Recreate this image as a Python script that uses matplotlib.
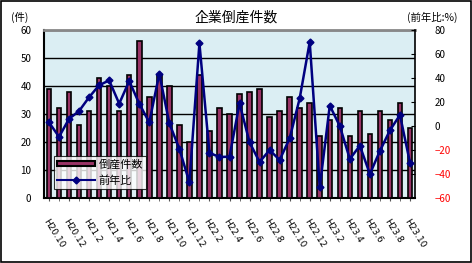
import numpy as np
import matplotlib
matplotlib.use("Agg")
import matplotlib.pyplot as plt
from matplotlib.lines import Line2D
from matplotlib.patches import Rectangle

plt.rcParams['font.family'] = ['Noto Sans CJK JP', 'DejaVu Sans']

# monthly data, H20.10 .. H23.10
counts = [39, 32, 38, 26, 31, 43, 40, 31, 44, 56, 36, 44, 40,
          26, 20, 44, 24, 32, 30, 37, 38, 39, 29, 31, 36,
          32, 34, 22, 28, 32, 22, 31, 23, 31, 28, 34, 25]
yoy = [3, -9, 6, 12.5, 24, 34, 38, 18.6, 37.5, 18.6, 3, 43.6, 2.2,
       -19, -47, 69, -22.5, -25.8, -25.6, 18.9, -13.6, -30, -20, -28.3, -10.3,
       23, 70, -51, 17, 0, -27.5, -16.4, -40, -20.8, -3.6, 9.2, -30.6]
tick_labels = ["H20.10", "H20.12", "H21.2", "H21.4", "H21.6", "H21.8", "H21.10",
               "H21.12", "H22.2", "H22.4", "H22.6", "H22.8", "H22.10", "H22.12",
               "H23.2", "H23.4", "H23.6", "H23.8", "H23.10"]

bar_color = '#993366'
line_color = '#000080'
bg_color = '#DBEEF3'

fig = plt.figure(figsize=(4.72, 2.63), dpi=100)
ax = fig.add_axes([44/472, 1-198/263, 371/472, 168/263])
ax.set_facecolor(bg_color)

x = np.arange(len(counts))
ax.bar(x, counts, width=0.45, color=bar_color, edgecolor='black', linewidth=1.2, zorder=3)
ax.set_xlim(-0.5, len(counts) - 0.5)
ax.set_ylim(0, 60)
ax.set_yticks(range(0, 61, 10))
ax.yaxis.grid(True, color='black', linewidth=1.0, zorder=1)
ax.set_axisbelow(True)
ax.tick_params(axis='y', length=0, labelsize=7, pad=9)
ax.set_xticks(x[::2])
ax.set_xticklabels(tick_labels, rotation=-58, ha='left', va='top',
                   rotation_mode='anchor', fontsize=6.5, family='DejaVu Sans')
ax.set_xticks(x, minor=True)
ax.tick_params(axis='x', which='both', length=2, color='#555555', pad=12)

for side in ['left', 'bottom']:
    ax.spines[side].set_color('black')
    ax.spines[side].set_linewidth(1.5)
ax.spines['top'].set_color('#888888')
ax.spines['top'].set_linewidth(2)
ax.spines['right'].set_visible(False)

ax2 = ax.twinx()
ax2.plot(x, yoy, color=line_color, linewidth=1.8, marker='D', markersize=3.5,
         zorder=5)
ax2.set_ylim(-60, 80)
ax2.set_yticks(range(-60, 81, 20))
ax2.tick_params(axis='y', direction='in', length=3, labelsize=7, pad=14)
for lab, v in zip(ax2.get_yticklabels(), range(-60, 81, 20)):
    lab.set_color('red' if v < 0 else 'black')
for side in ['left', 'bottom', 'top']:
    ax2.spines[side].set_visible(False)
ax2.spines['right'].set_color('black')
ax2.spines['right'].set_linewidth(1.2)

# legend
handles = [Rectangle((0, 0), 1, 1, facecolor=bar_color, edgecolor='black', linewidth=1.5),
           Line2D([], [], color=line_color, linewidth=1.5, marker='D', markersize=3.5)]
leg = ax.legend(handles, ['倒産件数', '前年比'], loc='lower left',
                bbox_to_anchor=(10/371, 9/168), borderaxespad=0, fontsize=8,
                frameon=True, fancybox=False, edgecolor='black', handlelength=3.4,
                handleheight=0.4, labelspacing=0.5, borderpad=0.3,
                handletextpad=0.3)
leg.get_frame().set_linewidth(0.8)
leg.set_zorder(10)

fig.text(236/472, 1-18/263, '企業倒産件数', ha='center', va='center', fontsize=10)
fig.text(20/472, 1-17/263, '(件)', ha='center', va='center', fontsize=7.5)
fig.text(432/472, 1-17/263, '(前年比:%)', ha='center', va='center', fontsize=7.5)

fig.patches.append(Rectangle((0.002, 0.003), 0.995, 0.993, transform=fig.transFigure,
                             fill=False, edgecolor='black', linewidth=1.2))

fig.savefig('out.png', dpi=100)
